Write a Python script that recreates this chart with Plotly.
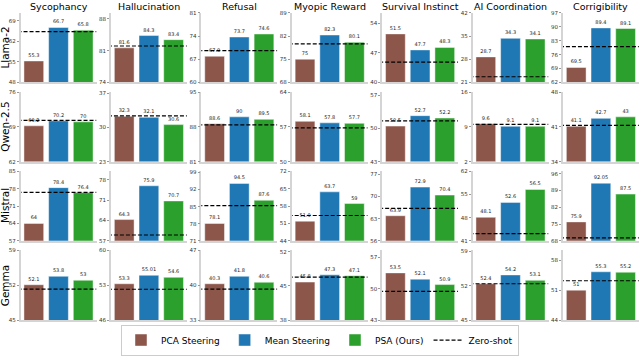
import numpy as np
import plotly.graph_objects as go

# Data
models = ["Llama-2", "Qwen-2.5", "Mistral", "Gemma"]
behaviors = ["Sycophancy", "Hallucination", "Refusal", "Myopic Reward",
             "Survival Instinct", "AI Coordination", "Corrigibility"]
methods = ["PCA Steering", "Mean Steering", "PSA (Ours)"]

pca_steering = [
    [55.3, 81.6, 67.9, 75, 51.5, 28.7, 69.5],
    [69.2, 32.3, 88.6, 58.1, 50.5, 9.6, 41.1],
    [64, 64.3, 78.1, 51.9, 63.9, 48.1, 75.9],
    [52.1, 53.3, 40.3, 45.8, 53.5, 52.4, 51],
]
mean_steering = [
    [66.7, 84.3, 73.7, 82.3, 47.7, 34.3, 89.4],
    [70.2, 32.1, 90, 57.8, 52.7, 9.1, 42.7],
    [78.4, 75.9, 94.5, 63.7, 72.9, 52.6, 92.05],
    [53.8, 55.01, 41.8, 47.3, 52.1, 54.2, 55.3],
]
psa_ours = [
    [65.8, 83.4, 74.6, 80.1, 48.3, 34.1, 89.1],
    [70, 30.6, 89.5, 57.7, 52.2, 9.1, 43],
    [76.4, 70.7, 87.6, 59, 70.4, 56.5, 87.5],
    [53, 54.6, 40.6, 47.1, 50.9, 53.1, 55.2],
]
zero_shot = [
    [65.3, 82.0, 69.6, 79.6, 44.8, 22.7, 80.0],
    [70.3, 32.4, 88.4, 56.8, 51.6, 9.5, 41.3],
    [76.5, 59.0, 85.4, 54.2, 66.2, 43.2, 69.2],
    [51.2, 52.2, 39.2, 46.8, 49.4, 52.4, 53.2],
]

colors = ["#8c564b", "#1f77b4", "#2ca02c"]
series = [pca_steering, mean_steering, psa_ours]

W, H = 640, 356
FONT = "DejaVu Sans"
XR = [-0.54, 2.54]

# panel geometry in pixels
col_left = [20.5 + 90.4 * c for c in range(7)]
panel_w = 76
row_top = [10 + 80.8 * r for r in range(4)]
panel_h = 71

fig = go.Figure()
layout = {}
annotations = []

for r in range(4):
    for c in range(7):
        k = r * 7 + c + 1
        xname = "x" if k == 1 else f"x{k}"
        yname = "y" if k == 1 else f"y{k}"
        vals = [s[r][c] for s in series]

        for m in range(3):
            fig.add_trace(go.Bar(
                x=[m], y=[vals[m]], width=0.8,
                marker=dict(color=colors[m], line=dict(color="rgba(255,255,255,0.45)", width=1)),
                text=[f"{vals[m]:g}"], textposition="outside",
                textfont=dict(size=5, color="#222", family=FONT),
                constraintext="none", cliponaxis=False,
                name=methods[m], legendgroup=methods[m], showlegend=(k == 1),
                xaxis=xname, yaxis=yname,
            ))

        zs = zero_shot[r][c]
        fig.add_trace(go.Scatter(
            x=[XR[0] - 0.12, XR[1]], y=[zs, zs], mode="lines",
            line=dict(color="black", width=1.2, dash="4px,2px"),
            name="Zero-shot", legendgroup="zs", showlegend=(k == 1),
            cliponaxis=False, xaxis=xname, yaxis=yname,
        ))

        # y range and ticks
        lo = np.floor(min(vals)) - 7
        ticks = list(np.arange(lo, max(vals) + 9, 7))
        hi = max(max(vals) + 5, ticks[-1])

        x0 = col_left[c] / W
        x1 = (col_left[c] + panel_w) / W
        y1 = 1 - row_top[r] / H
        y0 = 1 - (row_top[r] + panel_h) / H

        layout["xaxis" if k == 1 else f"xaxis{k}"] = dict(
            domain=[x0, x1], range=XR, anchor=yname,
            showticklabels=False, ticks="", showgrid=False, zeroline=False,
            showline=True, linecolor="#d4d4d4", linewidth=1.5,
        )
        layout["yaxis" if k == 1 else f"yaxis{k}"] = dict(
            domain=[y0, y1], range=[lo, hi], anchor=xname,
            tickvals=ticks, ticktext=[f"{t:g}" for t in ticks],
            ticks="outside", ticklen=2, tickcolor="#999", tickwidth=1,
            tickfont=dict(size=5.5, color="#333", family=FONT),
            showgrid=False, zeroline=False,
            showline=True, linecolor="#d4d4d4", linewidth=1.5,
        )

        if r == 0:
            annotations.append(dict(
                x=(x0 + x1) / 2, y=y1, xref="paper", yref="paper",
                text=behaviors[c], showarrow=False,
                xanchor="center", yanchor="bottom", yshift=-1,
                font=dict(size=9.5, color="black", family=FONT),
            ))
    annotations.append(dict(
        x=5 / W, y=1 - (row_top[r] + panel_h / 2) / H, xref="paper", yref="paper",
        text=models[r], showarrow=False, textangle=-90,
        xanchor="center", yanchor="middle",
        font=dict(size=10.5, color="black", family=FONT),
    ))

fig.update_layout(
    **layout,
    annotations=annotations,
    width=W, height=H,
    margin=dict(l=0, r=0, t=0, b=0),
    plot_bgcolor="white", paper_bgcolor="white",
    barmode="overlay",
    font=dict(family=FONT),
    legend=dict(
        orientation="h", x=0.5, xanchor="center", y=1 - 328 / H, yanchor="top",
        bordercolor="#cccccc", borderwidth=1, bgcolor="white",
        font=dict(size=9, color="black", family=FONT),
        itemwidth=30,
    ),
)

fig.write_html("out.html", config={"displayModeBar": False},
               post_script="document.body.style.margin='0px';")
